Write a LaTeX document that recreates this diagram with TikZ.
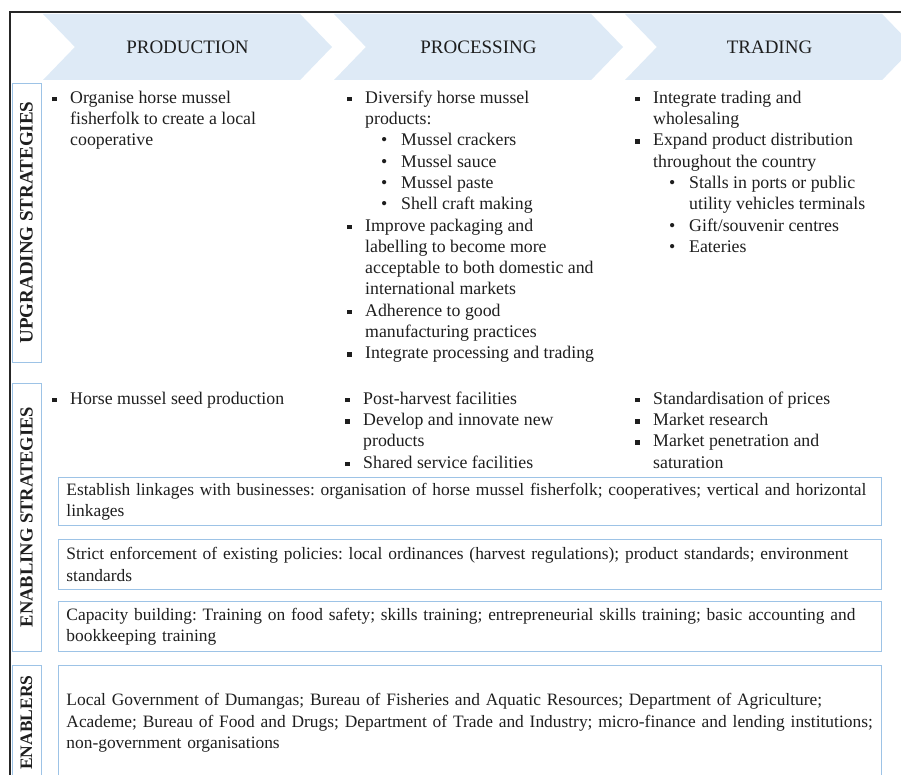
\documentclass[tikz,border=0pt]{standalone}
\usepackage{fontspec}
\setmainfont{Liberation Serif}
\usetikzlibrary{shapes.symbols}

\definecolor{chevblue}{HTML}{DEEAF6}
\definecolor{boxblue}{HTML}{9DC3E6}
\definecolor{ink}{HTML}{1E1E1E}

\frenchspacing
\hyphenpenalty=10000
\exhyphenpenalty=10000

% bullets for the lists
\newcommand{\sqb}{\rule{0pt}{16pt}\makebox[18pt][l]{\rule[2pt]{4.5pt}{4.5pt}}}
\newcommand{\cnt}{\hspace*{18pt}}
\newcommand{\subb}{\hspace*{34pt}\makebox[20pt][l]{\textbullet}}
\newcommand{\subc}{\hspace*{54pt}}

\begin{document}
\begin{tikzpicture}[x=1pt,y=-1pt,
    chev/.style={signal, signal from=west, signal to=east, signal pointer angle=92,
      fill=chevblue, minimum width=289pt, minimum height=66pt, inner sep=0pt,
      font=\fontsize{19}{22}\selectfont, text=ink},
    sidebox/.style={draw=boxblue, line width=0.9pt, rotate=90, minimum height=29pt,
      inner sep=0pt, text=ink},
    widebox/.style={draw=boxblue, line width=0.9pt, anchor=north west, minimum width=823pt,
      text width=807pt, inner xsep=8pt, align=left, text=ink,
      font=\fontsize{17.4}{21.3}\selectfont},
    list/.style={anchor=north west, inner sep=0pt, align=left, text=ink,
      font=\fontsize{17.8}{21.3}\selectfont}]
    \useasboundingbox (0,0) rectangle (901,775);
    \draw[black!85, line width=1.3pt] (10,775) -- (10,12) -- (901,12); %Frame
    % value chain stages
    \node[chev] (prod) at (187.5,47) {PRODUCTION};
    \node[chev] (proc) at (478.5,47) {PROCESSING};
    \node[chev] (trad) at (769.5,47) {TRADING};
    % row labels
    \node[sidebox, minimum width=279pt, font=\bfseries\fontsize{19}{22}\selectfont] (uplab) at (26.5,222.5) {UPGRADING STRATEGIES};
    \node[sidebox, minimum width=268pt, font=\bfseries\fontsize{18.5}{22}\selectfont] (enlab) at (26.5,517) {ENABLING STRATEGIES};
    \node[sidebox, minimum width=115pt, font=\bfseries\fontsize{17.5}{22}\selectfont] (eblab) at (26.5,722.5) {ENABLERS};
    % upgrading strategies
    \node[list] (upprod) at (52,87) {\sqb Organise horse mussel\\
      \cnt fisherfolk to create a local\\
      \cnt cooperative};
    \node[list] (upproc) at (347,87) {\sqb Diversify horse mussel\\
      \cnt products:\\
      \subb Mussel crackers\\
      \subb Mussel sauce\\
      \subb Mussel paste\\
      \subb Shell craft making\\
      \sqb Improve packaging and\\
      \cnt labelling to become more\\
      \cnt acceptable to both domestic and\\
      \cnt international markets\\
      \sqb Adherence to good\\
      \cnt manufacturing practices\\
      \sqb Integrate processing and trading};
    \node[list] (uptrad) at (635,87) {\sqb Integrate trading and\\
      \cnt wholesaling\\
      \sqb Expand product distribution\\
      \cnt throughout the country\\
      \subb Stalls in ports or public\\
      \subc utility vehicles terminals\\
      \subb Gift/souvenir centres\\
      \subb Eateries};
    % enabling strategies
    \node[list] (enprod) at (52,388) {\sqb Horse mussel seed production};
    \node[list] (enproc) at (345,388) {\sqb Post-harvest facilities\\
      \sqb Develop and innovate new\\
      \cnt products\\
      \sqb Shared service facilities};
    \node[list] (entrad) at (635,388) {\sqb Standardisation of prices\\
      \sqb Market research\\
      \sqb Market penetration and\\
      \cnt saturation};
    %
    \node[widebox, minimum height=48pt] (link) at (58,477) {Establish linkages with businesses: organisation of horse mussel fisherfolk; cooperatives; vertical and horizontal\\
      linkages};
    \node[widebox, minimum height=50pt] (enforce) at (58,539) {Strict enforcement of existing policies: local ordinances (harvest regulations); product standards; environment\\
      standards};
    \node[widebox, minimum height=50pt] (capacity) at (58,601) {Capacity building: Training on food safety; skills training; entrepreneurial skills training; basic accounting and\\
      bookkeeping training};
    % enablers
    \node[widebox, minimum height=115pt] (actors) at (58,665) {Local Government of Dumangas; Bureau of Fisheries and Aquatic Resources; Department of Agriculture;\\
      Academe; Bureau of Food and Drugs; Department of Trade and Industry; micro-finance and lending institutions;\\
      non-government organisations};
\end{tikzpicture}
\end{document}
